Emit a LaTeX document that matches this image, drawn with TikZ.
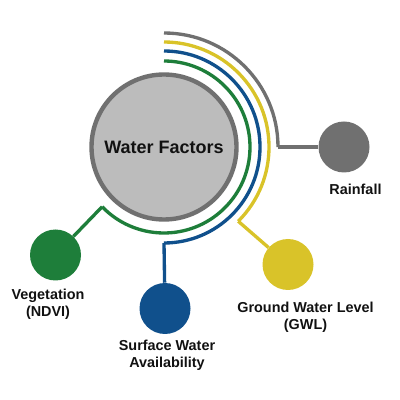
\documentclass[tikz,border=0pt]{standalone}
\usepackage{fontspec}
\setmainfont{Liberation Sans}
\usetikzlibrary{calc}
\definecolor{cgray}{RGB}{112,112,112}
\definecolor{cfill}{RGB}{188,188,188}
\definecolor{cgreen}{RGB}{30,126,58}
\definecolor{cblue}{RGB}{16,80,140}
\definecolor{cyellow}{RGB}{217,195,41}
\definecolor{ctext}{RGB}{17,17,17}
\tikzset{
  arcline/.style={line width=2.5pt},
  dot/.style={circle, minimum size=51*0.75pt, inner sep=0pt, fill=#1},
  lbl/.style={font=\bfseries\fontsize{10.8}{12.8}\selectfont, text=ctext, align=center, inner sep=0pt},
}
\begin{document}
\begin{tikzpicture}[x=0.75pt, y=0.75pt]
\useasboundingbox (0,0) rectangle (400,400);
\coordinate (c) at (164,253);
\node[circle, draw=cgray, line width=3.3pt, fill=cfill, minimum size=145*0.75pt, inner sep=0pt,
      font=\bfseries\fontsize{13.5}{15}\selectfont, text=ctext] (main) at (c) {Water Factors};
% factor dots
\node[dot=cgray] (rain) at (344,253) {};
\node[dot=cyellow] (gwl) at (288,135.5) {};
\node[dot=cblue] (swa) at (165,91.5) {};
\node[dot=cgreen] (veg) at (55.5,145) {};
% labels
\node[lbl] (lrain) at (355.5,211) {Rainfall};
\node[lbl] (lgwl) at (305.5,82.5) {Ground Water Level\\(GWL)};
\node[lbl] (lswa) at (167,45) {Surface Water\\Availability};
\node[lbl] (lveg) at (48,95.5) {Vegetation\\(NDVI)};
% arc end points
\coordinate (ge) at ($(c)+(0:114)$);
\coordinate (ye) at ($(c)+(-45:105)$);
\coordinate (be) at ($(c)+(-90:96)$);
\coordinate (gr) at ($(c)+(-136:86)$);
% arcs
\draw[arcline, cgray] (ge) arc[start angle=0, end angle=90, radius=114];
\draw[arcline, cyellow] (ye) arc[start angle=-45, end angle=90, radius=105];
\draw[arcline, cblue] (be) arc[start angle=-90, end angle=90, radius=96];
\draw[arcline, cgreen] (gr) arc[start angle=-136, end angle=90, radius=86];
% connectors
\draw[arcline, cgray] (ge) -- (rain);
\draw[arcline, cyellow] (ye) -- (gwl);
\draw[arcline, cblue] (be) -- (swa);
\draw[arcline, cgreen] (gr) -- (veg);
\end{tikzpicture}
\end{document}
